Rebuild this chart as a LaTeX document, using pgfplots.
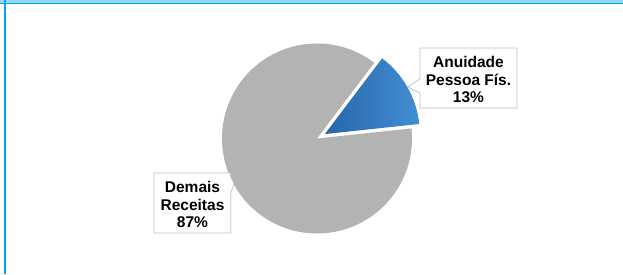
\documentclass[border=0pt]{standalone}
\usepackage{pgfplots}
\pgfplotsset{compat=1.18}
\usepackage{pgfplotstable}
\usepackage{fontspec}
\setmainfont{Liberation Sans}
\definecolor{frameblue}{RGB}{0,166,228}
\definecolor{framelight}{RGB}{150,212,242}
\definecolor{pieGray}{RGB}{179,179,179}
\definecolor{blueDark}{RGB}{40,102,170}
\definecolor{blueLight}{RGB}{66,142,212}
\definecolor{boxgray}{RGB}{192,192,192}

\pgfplotstableread{
label value
Anuidade 13
Demais 87
}\piedata
\pgfplotstablegetelem{0}{value}\of\piedata \let\valA\pgfplotsretval
\pgfplotstablegetelem{1}{value}\of\piedata \let\valB\pgfplotsretval

\begin{document}
\begin{tikzpicture}
\pgfmathsetmacro\startA{6.1}
\pgfmathsetmacro\endA{\startA+3.6*\valA}
\pgfmathsetmacro\endB{\endA+3.6*\valB}
\pgfmathsetmacro\midA{(\startA+\endA)/2}
\pgfmathsetmacro\cxA{317+9*cos(\midA)}
\pgfmathsetmacro\cyA{135.5+9*sin(\midA)}
\begin{axis}[width=623pt,height=274pt,scale only axis,at={(0,0)},anchor=south west,
  xmin=0,xmax=623,ymin=0,ymax=274,hide axis,clip=false]
% frame
\fill[framelight] (axis cs:0,271) rectangle (axis cs:623,274);
\fill[frameblue] (axis cs:0,269.8) rectangle (axis cs:623,271);
\fill[frameblue] (axis cs:3.5,0) rectangle (axis cs:5.5,274);
% pie
\fill[pieGray] (axis cs:317,135.5) -- ++(\endA:95pt) arc[start angle=\endA,end angle=\endB,radius=95pt] -- cycle;
\shade[left color=blueDark,right color=blueLight] (axis cs:\cxA,\cyA) -- ++(\startA:95pt) arc[start angle=\startA,end angle=\endA,radius=95pt] -- cycle;
% callouts
\filldraw[fill=white,draw=boxgray,line width=0.7pt] (axis cs:420,226) -- (axis cs:517,226) -- (axis cs:517,166) -- (axis cs:420,166) -- (axis cs:420,181) -- (axis cs:408,187) -- (axis cs:420,195) -- cycle;
\node[align=center,font=\bfseries\fontsize{15.5}{17.5}\selectfont,inner sep=0pt] at (axis cs:468.5,194.5) {Anuidade\\Pessoa Fís.\\13\%};
\filldraw[fill=white,draw=boxgray,line width=0.7pt] (axis cs:154,101) -- (axis cs:230.7,101) -- (axis cs:230.7,97.3) -- (axis cs:234,90) -- (axis cs:230.7,80.7) -- (axis cs:230.7,41) -- (axis cs:154,41) -- cycle;
\node[align=center,font=\bfseries\fontsize{15.5}{17.5}\selectfont,inner sep=0pt] at (axis cs:192.5,69.5) {Demais\\Receitas\\87\%};
\end{axis}
\pgfresetboundingbox
\useasboundingbox (0,0) rectangle (623pt,274pt);
\end{tikzpicture}
\end{document}
